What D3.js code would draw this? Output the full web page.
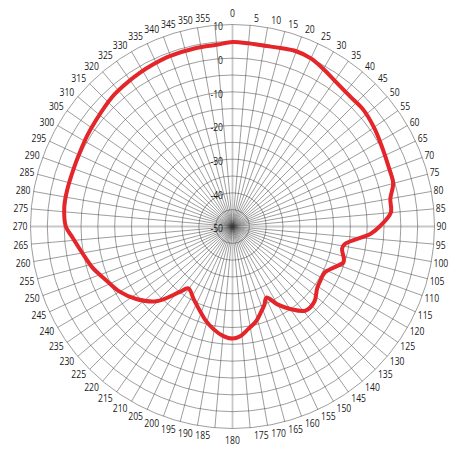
<!DOCTYPE html>
<html>
<head>
<meta charset="utf-8">
<script src="https://cdn.jsdelivr.net/npm/d3@7"></script>
<style>
  html, body { margin: 0; padding: 0; background: #fff; }
  svg { display: block; }
</style>
</head>
<body>
<svg id="chart" width="456" height="449"></svg>
<script>
// Azimuth tick labels (degrees, clockwise from top)
const angleTicks = d3.range(0, 360, 5);
// Radial gain tick labels (dB)
const gainTicks = [10, 0, -10, -20, -30, -40, -50];
// Grid rings every 5 dB
const ringValues = d3.range(-45, 15, 5);

// Measured radiation pattern: azimuth (deg) and gain (dB)
const patternAngle = [0, 5, 10, 15, 20, 25, 30, 35, 42, 48, 55, 62, 70, 75, 80, 85, 90, 93,
  99, 101.5, 106, 108, 112, 116.5, 121, 126, 132.5, 139, 145, 150, 154.5, 158, 161, 166,
  171.5, 176, 180, 185, 190.5, 196, 201, 208, 215.5, 219, 225.5, 233, 240, 247, 253.5,
  260, 266, 270, 276.5, 282, 290, 296, 302, 308, 317, 323, 329, 334, 340, 348.5, 355];
const patternGain = [4.8, 4.6, 4.5, 4.9, 5.4, 5.1, 4.0, 2.9, 2.1, 2.1, 1.3, 0.3, -0.4, -0.6,
  -2.4, -2.8, -6.3, -8.9, -16.3, -16.8, -15.6, -15.4, -17.5, -19.4, -19.4, -18.9, -17.0,
  -16.9, -20.1, -23.3, -26.6, -24.8, -23.5, -21.0, -19.1, -17.3, -16.7, -17.4, -19.0,
  -21.0, -23.1, -25.5, -27.4, -24.9, -18.3, -14.2, -11.3, -9.2, -6.7, -4.7, -2.4, -0.5,
  0.3, 0.3, 0.2, 0.4, 0.9, 1.4, 2.5, 2.9, 3.3, 3.6, 3.9, 4.1, 4.2];

const cx = 232.5, cy = 226.5;
const outerR = 202;
const font = "'Open Sans', sans-serif";
const narrow = 0.82; // condensed lettering for tick labels

const svg = d3.select("#chart");
const g = svg.append("g").attr("transform", `translate(${cx},${cy})`);

const r = d3.scaleLinear().domain([-50, 10]).range([0, outerR]);
const rad = d => d * Math.PI / 180;

// Main axes (0/90/180/270), light and wide, under the rest of the grid
g.append("g").selectAll("line")
  .data([0, 90, 180, 270])
  .join("line")
  .attr("x1", 0).attr("y1", 0)
  .attr("x2", a => r(10) * Math.sin(rad(a)))
  .attr("y2", a => -r(10) * Math.cos(rad(a)))
  .attr("stroke", "#c8c8c8")
  .attr("stroke-width", 1.8);

// Spokes every 5 degrees
g.append("g").selectAll("line")
  .data(angleTicks.filter(a => a % 90 !== 0))
  .join("line")
  .attr("x1", 0).attr("y1", 0)
  .attr("x2", a => r(10) * Math.sin(rad(a)))
  .attr("y2", a => -r(10) * Math.cos(rad(a)))
  .attr("stroke", "#3c3c3c")
  .attr("stroke-width", 0.5);

// Concentric gain rings
g.append("g").selectAll("circle")
  .data(ringValues)
  .join("circle")
  .attr("r", d => r(d))
  .attr("fill", "none")
  .attr("stroke", "#3c3c3c")
  .attr("stroke-width", 0.5);

// Azimuth labels: anchored away from the circle on each side
const labelX = a => {
  const s = Math.sin(rad(a));
  if (a === 0 || a === 180) return 0;
  return s > 0 ? 4 + 200 * s : -5 + 200 * s;
};
const labelY = a => {
  let y = -209.5 * Math.cos(rad(a));
  if (a === 0) y -= 4;
  if (a === 180) y += 4;
  return y;
};
g.append("g").selectAll("text")
  .data(angleTicks)
  .join("text")
  .attr("transform", a => `translate(${labelX(a)},${labelY(a)}) scale(${narrow},1)`)
  .attr("text-anchor", a => (a === 0 || a === 180) ? "middle" : (a < 180 ? "start" : "end"))
  .attr("dominant-baseline", "central")
  .attr("font-family", font)
  .attr("font-size", 10.5)
  .attr("fill", "#1a1a1a")
  .text(a => a);

// Gain labels along the 0° axis
g.append("g").selectAll("text")
  .data(gainTicks)
  .join("text")
  .attr("transform", d => `translate(-9.5,${-r(d) + 2}) scale(${narrow},1)`)
  .attr("text-anchor", "end")
  .attr("dominant-baseline", "central")
  .attr("font-family", font)
  .attr("font-size", 10.5)
  .attr("fill", "#1a1a1a")
  .text(d => d);

// Radiation pattern trace
const pts = patternAngle.map((a, i) => [rad(a), r(patternGain[i])]);
const line = d3.lineRadial()
  .angle(d => d[0])
  .radius(d => d[1])
  .curve(d3.curveCatmullRomClosed.alpha(0.5));

g.append("path")
  .attr("d", line(pts))
  .attr("fill", "none")
  .attr("stroke", "#e4262b")
  .attr("stroke-width", 4)
  .attr("stroke-linejoin", "round");
</script>
</body>
</html>
